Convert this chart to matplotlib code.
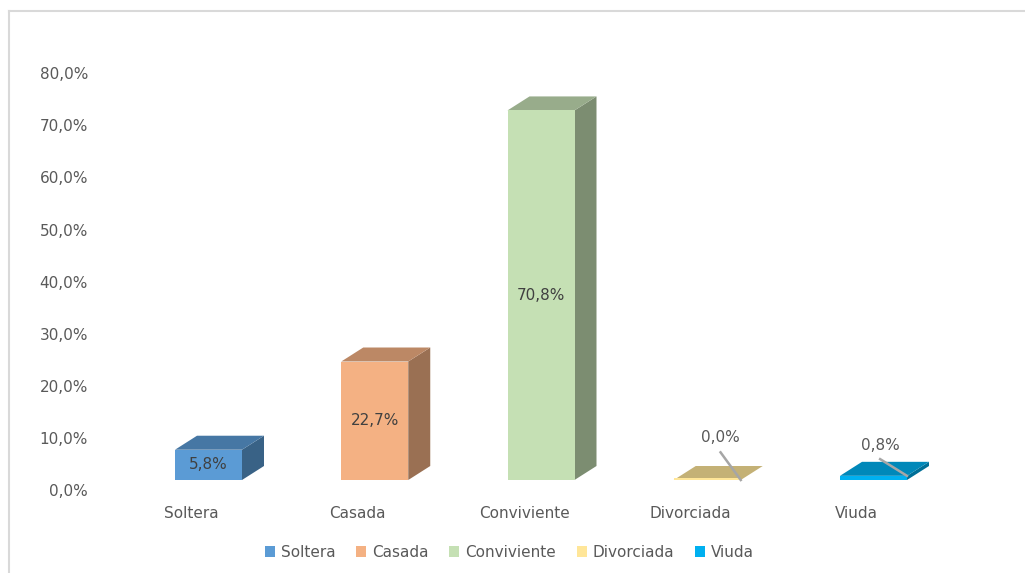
import matplotlib
matplotlib.use("Agg")
import matplotlib.pyplot as plt
from matplotlib.patches import Polygon, Rectangle
from matplotlib.lines import Line2D
import matplotlib.transforms as mtransforms

# Estado civil: distribution in percent
categories = ["Soltera", "Casada", "Conviviente", "Divorciada", "Viuda"]
values = [5.8, 22.7, 70.8, 0.0, 0.8]
value_labels = ["5,8%", "22,7%", "70,8%", "0,0%", "0,8%"]
colors = ["#5B9BD5", "#F4B183", "#C5E0B4", "#FFE699", "#00B0F0"]
y_ticks = [0, 10, 20, 30, 40, 50, 60, 70, 80]
y_tick_labels = ["0,0%", "10,0%", "20,0%", "30,0%", "40,0%", "50,0%", "60,0%", "70,0%", "80,0%"]

plt.rcParams["font.family"] = ["DejaVu Sans"]
TEXT = "#595959"
FS = 11

W, H, DPI = 1025, 573, 100
fig = plt.figure(figsize=(W / DPI, H / DPI), dpi=DPI)
fig.patch.set_facecolor("white")

ax = fig.add_axes([0, 0, 1, 1])
ax.set_axis_off()

# pixel geometry of the plot
px_per_cat = 166.25
px_per_pct = 5.22
x0_px = 208.5          # centre of first column
base_px = 480.0        # front floor line (from top)
ax.set_xlim(-x0_px / px_per_cat, (W - x0_px) / px_per_cat)
ax.set_ylim(-(H - base_px) / px_per_pct, base_px / px_per_pct)

bar_w = 67 / px_per_cat
depth_x = 22 / px_per_cat
depth_y = 14 / px_per_pct


def shade(hex_color, f):
    r, g, b = matplotlib.colors.to_rgb(hex_color)
    return (r * f, g * f, b * f)


for i, (v, c) in enumerate(zip(values, colors)):
    xl, xr = i - bar_w / 2, i + bar_w / 2
    # right side face
    ax.add_patch(Polygon([(xr, 0), (xr + depth_x, depth_y), (xr + depth_x, v + depth_y), (xr, v)],
                         closed=True, facecolor=shade(c, 0.63), edgecolor="none", zorder=2))
    # top face
    ax.add_patch(Polygon([(xl, v), (xr, v), (xr + depth_x, v + depth_y), (xl + depth_x, v + depth_y)],
                         closed=True, facecolor=shade(c, 0.77), edgecolor="none", zorder=3))
    # front face
    ax.add_patch(Rectangle((xl, 0), bar_w, max(v, 0.35), facecolor=c, edgecolor="none", zorder=4))

# value labels
for i, (v, lab) in enumerate(zip(values, value_labels)):
    if v > 3:
        ax.text(i, v / 2, lab, ha="center", va="center", fontsize=FS, color="#404040", zorder=6)

# small values get callouts above the column with a leader line
callouts = {3: (0.08, 8.1, 0.08, 5.3), 4: (0.04, 6.6, 0.04, 4.0)}
for i, (dx, ly, lx0, l0) in callouts.items():
    v = values[i]
    ax.text(i + dx, ly, value_labels[i], ha="center", va="center", fontsize=FS, color=TEXT, zorder=6)
    ax.add_line(Line2D([i + lx0, i + bar_w / 2], [l0, v], color="#A6A6A6", lw=1.8, zorder=7))

# y tick labels, placed along the back wall
wall = mtransforms.offset_copy(ax.transData, fig=fig, x=0, y=-12, units="dots")
tick_tr = mtransforms.blended_transform_factory(fig.transFigure, wall)
for t, lab in zip(y_ticks, y_tick_labels):
    ax.text(88 / W, t, lab, transform=tick_tr, ha="right", va="center", fontsize=FS, color=TEXT)

# category labels
cat_tr = mtransforms.offset_copy(ax.transData, fig=fig, x=-17, y=-33, units="dots")
for i, cat in enumerate(categories):
    ax.text(i, 0, cat, transform=cat_tr, ha="center", va="center", fontsize=FS, color=TEXT)

# legend
handles = [Rectangle((0, 0), 1, 1, facecolor=c, edgecolor="none") for c in colors]
fig.legend(handles, categories, loc="center", bbox_to_anchor=(0.497, 0.036), ncol=5,
           frameon=False, fontsize=FS, labelcolor=TEXT, handlelength=0.65, handleheight=0.65,
           handletextpad=0.4, columnspacing=1.35)

# chart area border
fig.add_artist(Line2D([8.5 / W, 8.5 / W], [0, 1 - 10.5 / H], transform=fig.transFigure,
                      color="#D9D9D9", lw=1.5))
fig.add_artist(Line2D([8.5 / W, 1], [1 - 10.5 / H, 1 - 10.5 / H], transform=fig.transFigure,
                      color="#D9D9D9", lw=1.5))

fig.savefig("out.png", dpi=DPI, facecolor="white")
